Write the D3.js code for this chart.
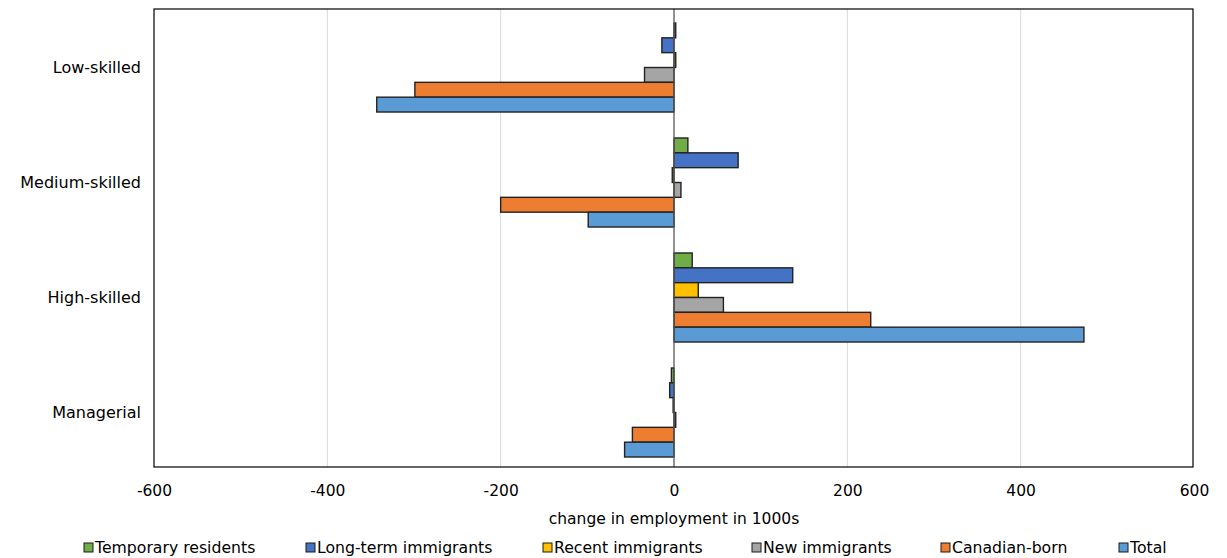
<!DOCTYPE html>
<html><head><meta charset="utf-8">
<script src="https://cdn.jsdelivr.net/npm/d3@7"></script>
<style>body{margin:0;background:#fff}svg{display:block}text{font-family:"DejaVu Sans",Verdana,sans-serif;fill:#000}</style>
</head><body><svg id="c" width="1227" height="558"></svg>
<script>
const categories = ["Low-skilled","Medium-skilled","High-skilled","Managerial "];
const seriesNames = ["Temporary residents","Long-term immigrants","Recent immigrants","New immigrants","Canadian-born","Total"];
const temporary = [2, 16, 21, -3];
const longTerm = [-14, 74, 137, -5];
const recent = [2, -2, 28, -1];
const newImm = [-34, 8, 57, 2];
const canadianBorn = [-299, -200, 227, -48];
const total = [-343, -99, 473, -57];
const xTicks = [-600,-400,-200,0,200,400,600];
const colors = ["#70AD47","#4472C4","#FFC000","#A5A5A5","#ED7D31","#5B9BD5"];
const series = [temporary,longTerm,recent,newImm,canadianBorn,total];

const svg = d3.select("#c");
const L=154, R=1194, T=9, B=467;
const FONT = "'DejaVu Sans',Verdana,sans-serif";
const x = d3.scaleLinear().domain([-600,600]).range([L,R]);
const y0 = d3.scaleBand().domain(categories).range([10,470]).paddingInner(0.226).paddingOuter(0.113);
const y1 = d3.scaleBand().domain(seriesNames).range([0,y0.bandwidth()]);

// gridlines
svg.append("g").selectAll("line").data(xTicks.filter(d=>d!==0&&Math.abs(d)!==600)).join("line")
  .attr("x1",d=>x(d)).attr("x2",d=>x(d)).attr("y1",T).attr("y2",B)
  .attr("stroke","#d9d9d9").attr("stroke-width",1);

// bars
const g = svg.append("g");
categories.forEach((c,ci)=>{
  seriesNames.forEach((s,si)=>{
    const v = series[si][ci];
    g.append("rect")
      .attr("x", x(Math.min(0,v))).attr("width", Math.abs(x(v)-x(0)))
      .attr("y", y0(c)+y1(s)).attr("height", y1.bandwidth())
      .attr("fill", colors[si]).attr("stroke","#222").attr("stroke-width",1.4);
  });
});

// zero line
svg.append("line").attr("x1",x(0)).attr("x2",x(0)).attr("y1",T).attr("y2",B).attr("stroke","#595959").attr("stroke-width",1.3);
// border
svg.append("rect").attr("x",L).attr("y",T).attr("width",R-L-1).attr("height",B-T).attr("fill","none").attr("stroke","#000").attr("stroke-width",1.2);

// x axis
const xa = svg.append("g").attr("transform",`translate(0,${B})`)
  .call(d3.axisBottom(x).tickValues(xTicks).tickSize(0).tickPadding(18).tickFormat(d=>String(d)));
xa.select(".domain").remove();
xa.selectAll("text").style("font-size","15.5px").style("font-family",FONT).attr("fill","#000");

// y labels
const ya = svg.append("g").attr("transform",`translate(${L},0)`)
  .call(d3.axisLeft(y0).tickSize(0).tickPadding(13));
ya.select(".domain").remove();
ya.selectAll("text").style("font-size","16px").style("font-family",FONT).attr("fill","#000");

svg.append("text").attr("x",x(0)).attr("y",524).attr("text-anchor","middle").style("font-size","15.5px").text("change in employment in 1000s");

// legend
const legX = [84,306,543,752,941,1119];
const lg = svg.append("g");
seriesNames.forEach((s,i)=>{
  lg.append("rect").attr("x",legX[i]).attr("y",543).attr("width",9).attr("height",9)
    .attr("fill",colors[i]).attr("stroke","#1a1a1a").attr("stroke-width",1);
  lg.append("text").attr("x",legX[i]+11).attr("y",553).style("font-size","15.7px").text(s);
});
</script></body></html>
